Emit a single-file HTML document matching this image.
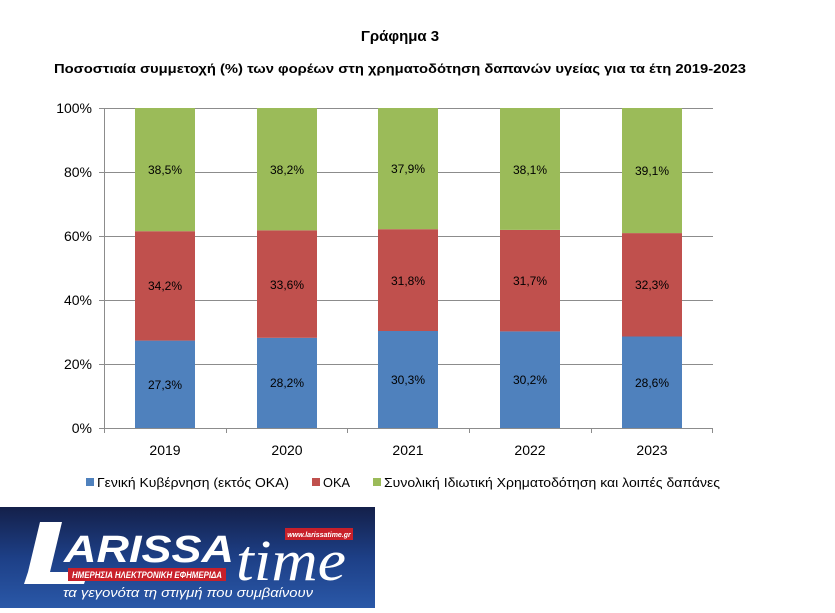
<!DOCTYPE html>
<html><head><meta charset="utf-8"><style>
body{margin:0;background:#fff;width:835px;height:608px;overflow:hidden;font-family:"Liberation Sans","DejaVu Sans",sans-serif}
</style></head><body>
<svg width="835" height="608" xmlns="http://www.w3.org/2000/svg" font-family="Liberation Sans, DejaVu Sans, sans-serif">
<defs><linearGradient id="bg" x1="0" y1="0" x2="0" y2="1"><stop offset="0" stop-color="#14204a"/><stop offset="0.5" stop-color="#1d3f86"/><stop offset="1" stop-color="#2a58a8"/></linearGradient></defs>
<text x="400" y="41" text-anchor="middle" font-size="15" font-weight="bold" fill="#000">Γράφημα 3</text>
<text x="400" y="73" text-anchor="middle" font-size="13" font-weight="bold" fill="#000" textLength="692" lengthAdjust="spacingAndGlyphs">Ποσοστιαία συμμετοχή (%) των φορέων στη χρηματοδότηση δαπανών υγείας για τα έτη 2019-2023</text>
<g stroke="#8c8c8c" stroke-width="1">
<line x1="99" y1="108.5" x2="713" y2="108.5"/><line x1="99" y1="172.5" x2="713" y2="172.5"/><line x1="99" y1="236.5" x2="713" y2="236.5"/><line x1="99" y1="300.5" x2="713" y2="300.5"/><line x1="99" y1="364.5" x2="713" y2="364.5"/><line x1="99" y1="428.5" x2="713" y2="428.5"/>
<line x1="104.5" y1="108" x2="104.5" y2="433"/>
<line x1="226.5" y1="428" x2="226.5" y2="433"/><line x1="347.5" y1="428" x2="347.5" y2="433"/><line x1="469.5" y1="428" x2="469.5" y2="433"/><line x1="591.5" y1="428" x2="591.5" y2="433"/><line x1="712.5" y1="428" x2="712.5" y2="433"/>
</g>
<g font-size="14" fill="#000" text-anchor="end">
<text x="92" y="113">100%</text><text x="92" y="177">80%</text><text x="92" y="241">60%</text><text x="92" y="305">40%</text><text x="92" y="369">20%</text><text x="92" y="433">0%</text>
</g>
<g font-size="14" fill="#000" text-anchor="middle">
<text x="165" y="455">2019</text><text x="287" y="455">2020</text><text x="408" y="455">2021</text><text x="530" y="455">2022</text><text x="652" y="455">2023</text>
</g>
<g>
<rect x="135" y="340.6" width="60" height="87.4" fill="#4F81BD"/><rect x="135" y="231.2" width="60" height="109.4" fill="#C0504D"/><rect x="135" y="108" width="60" height="123.2" fill="#9BBB59"/>
<rect x="257" y="337.8" width="60" height="90.2" fill="#4F81BD"/><rect x="257" y="230.3" width="60" height="107.5" fill="#C0504D"/><rect x="257" y="108" width="60" height="122.3" fill="#9BBB59"/>
<rect x="378" y="331" width="60" height="97" fill="#4F81BD"/><rect x="378" y="229.2" width="60" height="101.8" fill="#C0504D"/><rect x="378" y="108" width="60" height="121.2" fill="#9BBB59"/>
<rect x="500" y="331.4" width="60" height="96.6" fill="#4F81BD"/><rect x="500" y="229.9" width="60" height="101.5" fill="#C0504D"/><rect x="500" y="108" width="60" height="121.9" fill="#9BBB59"/>
<rect x="622" y="336.5" width="60" height="91.5" fill="#4F81BD"/><rect x="622" y="233.1" width="60" height="103.4" fill="#C0504D"/><rect x="622" y="108" width="60" height="125.1" fill="#9BBB59"/>
</g>
<g font-size="12" fill="#000" text-anchor="middle">
<text x="165" y="389">27,3%</text><text x="165" y="290">34,2%</text><text x="165" y="174">38,5%</text>
<text x="287" y="387">28,2%</text><text x="287" y="289">33,6%</text><text x="287" y="174">38,2%</text>
<text x="408" y="384">30,3%</text><text x="408" y="285">31,8%</text><text x="408" y="173">37,9%</text>
<text x="530" y="384">30,2%</text><text x="530" y="285">31,7%</text><text x="530" y="174">38,1%</text>
<text x="652" y="387">28,6%</text><text x="652" y="289">32,3%</text><text x="652" y="175">39,1%</text>
</g>
<g font-size="13" fill="#000">
<rect x="86" y="478" width="8" height="8" fill="#4F81BD"/><text x="97" y="487" textLength="192" lengthAdjust="spacingAndGlyphs">Γενική Κυβέρνηση (εκτός ΟΚΑ)</text>
<rect x="312" y="478" width="8" height="8" fill="#C0504D"/><text x="323" y="487" textLength="27" lengthAdjust="spacingAndGlyphs">ΟΚΑ</text>
<rect x="373" y="478" width="8" height="8" fill="#9BBB59"/><text x="384" y="487" textLength="336" lengthAdjust="spacingAndGlyphs">Συνολική Ιδιωτική Χρηματοδότηση και λοιπές δαπάνες</text>
</g>
<rect x="0" y="507" width="375" height="101" fill="url(#bg)"/>
<polygon points="40,522 62,522 50,572 28,572" fill="#fff"/>
<polygon points="28,572 88,572 84,584 24,584" fill="#fff"/>
<text x="64" y="562" font-size="38" font-weight="bold" font-style="italic" fill="#fff" textLength="170" lengthAdjust="spacingAndGlyphs">ARISSA</text>
<rect x="285" y="528" width="68" height="12" fill="#c8202a"/>
<text x="319" y="537" font-size="7" font-weight="bold" font-style="italic" fill="#fff" text-anchor="middle">www.larissatime.gr</text>
<text x="236" y="580" font-size="58" font-style="italic" font-family="Liberation Serif, serif" fill="#fff" textLength="110" lengthAdjust="spacingAndGlyphs">time</text>
<rect x="68" y="568" width="158" height="13" fill="#c8202a"/>
<text x="147" y="578" font-size="9" font-weight="bold" font-style="italic" fill="#fff" text-anchor="middle" textLength="150" lengthAdjust="spacingAndGlyphs">ΗΜΕΡΗΣΙΑ ΗΛΕΚΤΡΟΝΙΚΗ ΕΦΗΜΕΡΙΔΑ</text>
<text x="188" y="597" font-size="13" font-style="italic" fill="#fff" text-anchor="middle" textLength="250" lengthAdjust="spacingAndGlyphs">τα γεγονότα τη στιγμή που συμβαίνουν</text>
</svg>
</body></html>
